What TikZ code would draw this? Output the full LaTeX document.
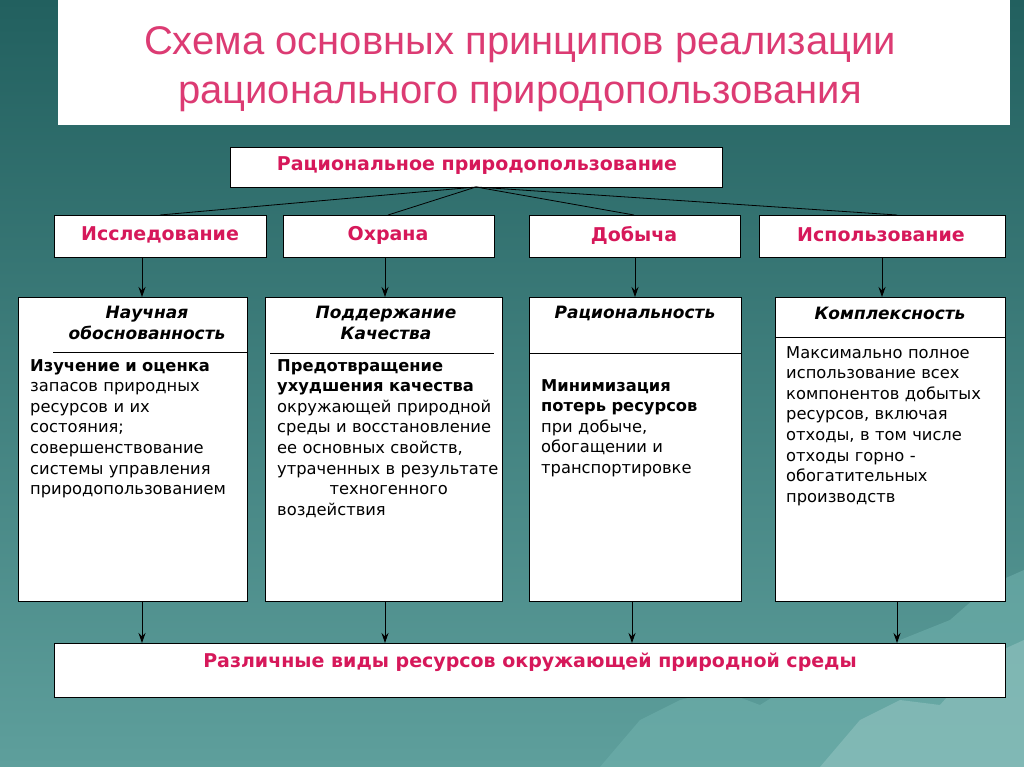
\documentclass[tikz,border=0pt]{standalone}
\usepackage{fontspec}
\usetikzlibrary{arrows.meta}
\setmainfont{DejaVu Sans}
\newfontfamily\titlefont{Liberation Sans}
\definecolor{pinkred}{HTML}{D6185A}
\definecolor{bgtop}{HTML}{22605F}
\definecolor{bgbot}{HTML}{5E9F9C}
\definecolor{mount}{HTML}{6FB0AC}
\newlength{\lw}
\newcommand{\jl}[1]{\makebox[\lw][s]{#1}\\}
\begin{document}
\begin{tikzpicture}[x=1pt,y=-1pt,
  wbox/.style={draw=black,fill=white,line width=0.8pt},
  hdr/.style={font=\bfseries\fontsize{19}{22}\selectfont,text=pinkred},
  colhead/.style={font=\bfseries\itshape\fontsize{17}{21}\selectfont,align=center,text=black},
  coltext/.style={anchor=north west,inner sep=0pt,font=\fontsize{16.3}{20.6}\selectfont,align=left},
  arr/.style={-{Stealth[length=10pt,width=7pt]},line width=0.9pt},
  sepl/.style={line width=0.8pt}]
\useasboundingbox (0,0) rectangle (1024,767);
\shade[top color=bgtop,bottom color=bgbot] (0,0) rectangle (1024,767);
% mountains
\fill[mount,opacity=0.6] (600,767) -- (640,720) -- (680,700) -- (720,690) -- (760,705) -- (800,680) -- (850,695) -- (900,640) -- (950,620) -- (990,585) -- (1024,570) -- (1024,767) -- cycle;
\fill[mount!70!white,opacity=0.5] (820,767) -- (860,720) -- (900,700) -- (940,705) -- (980,660) -- (1024,640) -- (1024,767) -- cycle;
% title
\fill[white] (58,0) rectangle (1010,125);
\node[font=\titlefont\fontsize{40}{46}\selectfont,text=pinkred!85!white] (t1) at (520,45) {Схема основных принципов реализации};
\node[font=\titlefont\fontsize{40}{46}\selectfont,text=pinkred!85!white] (t2) at (520,97) {рационального природопользования};
% top box
\draw[wbox] (230,147) rectangle (722,187);
\node[hdr] (top) at (477,166) {Рациональное природопользование};
\coordinate (topb) at (476,187);
% headers
\draw[wbox] (54,215) rectangle (266,257);
\draw[wbox] (283,215) rectangle (494,257);
\draw[wbox] (529,215) rectangle (740,257);
\draw[wbox] (759,215) rectangle (1005,257);
\node[hdr] (h1) at (160,235) {Исследование};
\node[hdr] (h2) at (388,235) {Охрана};
\node[hdr] (h3) at (634,235) {Добыча};
\node[hdr] (h4) at (881,235) {Использование};
\coordinate (h1t) at (160,215); \coordinate (h2t) at (388,215);
\coordinate (h3t) at (634,215); \coordinate (h4t) at (897,215);
\foreach \c in {h1t,h2t,h3t,h4t} \draw[line width=0.8pt] (topb) -- (\c);
\coordinate (h1b) at (142,257); \coordinate (h2b) at (385,257);
\coordinate (h3b) at (635,257); \coordinate (h4b) at (882,257);
\coordinate (c1t) at (142,297); \coordinate (c2t) at (385,297);
\coordinate (c3t) at (635,297); \coordinate (c4t) at (882,297);
\draw[arr] (h1b) -- (c1t); \draw[arr] (h2b) -- (c2t);
\draw[arr] (h3b) -- (c3t); \draw[arr] (h4b) -- (c4t);
% columns
\draw[wbox] (18,297) rectangle (247,601);
\draw[wbox] (265,297) rectangle (502,601);
\draw[wbox] (529,297) rectangle (741,601);
\draw[wbox] (775,297) rectangle (1005,601);
\node[colhead] (k1) at (147,323) {Научная\\обоснованность};
\node[colhead] (k2) at (386,323) {Поддержание\\Качества};
\node[colhead] (k3) at (635,313) {Рациональность};
\node[colhead] (k4) at (890,313) {Комплексность};
\draw[sepl] (53,352) -- (247,352);
\draw[sepl] (270,353) -- (494,353);
\draw[sepl] (529,353) -- (741,353);
\draw[sepl] (775,337) -- (1005,337);
\node[coltext,text width=207pt] (x1) at (30,359) {\setlength{\lw}{207pt}\jl{\bfseries Изучение и оценка}\jl{запасов природных}\jl{ресурсов и их}состояния;\\\jl{совершенствование}\jl{системы управления}природопользованием};
\node[coltext,text width=223pt] (x2) at (277,359) {\setlength{\lw}{223pt}\textbf{Предотвращение}\\\jl{\bfseries ухудшения качества}\jl{окружающей природной}\jl{среды и восстановление}\jl{ее основных свойств,}\jl{утраченных в результате}\makebox[\lw][c]{техногенного}\\воздействия};
\node[coltext,text width=190pt] (x3) at (541,379) {\setlength{\lw}{190pt}\textbf{Минимизация}\\\jl{\bfseries потерь ресурсов}\jl{при добыче,}\jl{обогащении и}транспортировке};
\node[coltext,text width=210pt] (x4) at (786,346) {\setlength{\lw}{210pt}\jl{Максимально полное}\jl{использование всех}\jl{компонентов добытых}\jl{ресурсов, включая}\jl{отходы, в том числе}\jl{отходы горно -}обогатительных\\производств};
% bottom
\coordinate (c1b) at (142,601); \coordinate (c2b) at (385,601);
\coordinate (c3b) at (632,601); \coordinate (c4b) at (897,601);
\coordinate (b1) at (142,643); \coordinate (b2) at (385,643);
\coordinate (b3) at (632,643); \coordinate (b4) at (897,643);
\draw[arr] (c1b) -- (b1); \draw[arr] (c2b) -- (b2);
\draw[arr] (c3b) -- (b3); \draw[arr] (c4b) -- (b4);
\draw[wbox] (54,643) rectangle (1005,697);
\node[hdr] (bot) at (530,662) {Различные виды ресурсов окружающей природной среды};
\end{tikzpicture}
\end{document}
